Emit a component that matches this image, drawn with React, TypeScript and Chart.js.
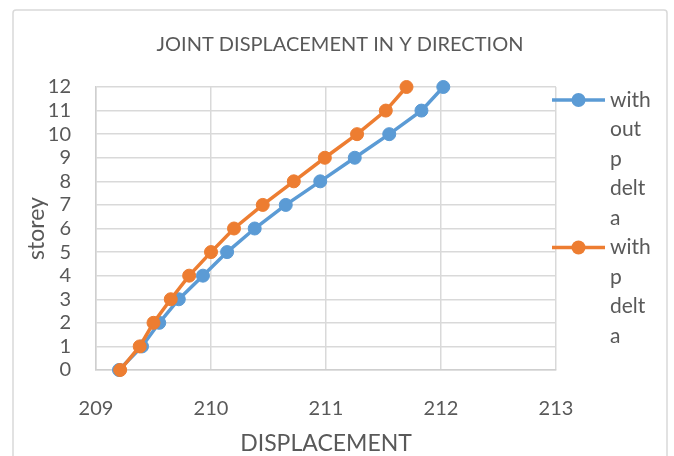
import React, { useEffect, useRef } from "react";
import { Chart, registerables } from "chart.js";

Chart.register(...registerables);

// Storey levels (y) and joint displacement values (x)
const storeys = [0, 1, 2, 3, 4, 5, 6, 7, 8, 9, 10, 11, 12];
const withoutPDelta = [209.2, 209.4, 209.55, 209.72, 209.93, 210.14, 210.38, 210.65, 210.95, 211.25, 211.55, 211.83, 212.02];
const withPDelta = [209.21, 209.38, 209.5, 209.65, 209.81, 210.0, 210.2, 210.45, 210.72, 210.99, 211.27, 211.52, 211.7];

// Legend labels, wrapped word-fragment by word-fragment
const seriesLabels = [
  ["with", "out", "p", "delt", "a"],
  ["with", "p", "delt", "a"],
];
const seriesColors = ["#5b9bd5", "#ed7d31"];

const xMin = 209;
const xMax = 213;
const yMin = 0;
const yMax = 12;

const chartTitle = "JOINT DISPLACEMENT IN Y DIRECTION";
const xTitle = "DISPLACEMENT";
const yTitle = "storey";

const FONT = "Lato, 'Open Sans', sans-serif";
const TEXT = "#595959";
const GRID = "#d9d9d9";

// Outer frame and centred chart title
const framePlugin = {
  id: "frame",
  beforeDraw(chart: any) {
    const { ctx } = chart;
    ctx.save();
    ctx.fillStyle = "#ffffff";
    ctx.fillRect(0, 0, chart.width, chart.height);
    ctx.strokeStyle = GRID;
    ctx.lineWidth = 1.5;
    ctx.beginPath();
    ctx.roundRect(13, 10, 654, 470, 3);
    ctx.stroke();
    ctx.fillStyle = TEXT;
    ctx.font = `20px ${FONT}`;
    ctx.textAlign = "center";
    ctx.textBaseline = "middle";
    ctx.fillText(chartTitle, 340, 45);
    ctx.restore();
  },
};

// Right-hand legend with line + marker samples and wrapped labels
const sideLegendPlugin = {
  id: "sideLegend",
  afterDraw(chart: any) {
    const { ctx, chartArea } = chart;
    const lineStart = chartArea.right - 4;
    const lineEnd = lineStart + 53;
    const textX = lineEnd + 5;
    const lineH = 29.5;
    let y = chartArea.top + 13;
    ctx.save();
    chart.data.datasets.forEach((ds: any, i: number) => {
      const lines: string[] = seriesLabels[i];
      ctx.strokeStyle = ds.borderColor;
      ctx.lineWidth = 3.5;
      ctx.beginPath();
      ctx.moveTo(lineStart, y);
      ctx.lineTo(lineEnd, y);
      ctx.stroke();
      ctx.fillStyle = ds.borderColor;
      ctx.beginPath();
      ctx.arc((lineStart + lineEnd) / 2, y, 7, 0, Math.PI * 2);
      ctx.fill();
      ctx.fillStyle = TEXT;
      ctx.font = `21px ${FONT}`;
      ctx.textBaseline = "middle";
      ctx.textAlign = "left";
      lines.forEach((t, k) => ctx.fillText(t, textX, y + k * lineH));
      y += lines.length * lineH;
    });
    ctx.restore();
  },
};

export default function App() {
  const canvasRef = useRef<HTMLCanvasElement | null>(null);

  useEffect(() => {
    if (!canvasRef.current) return;
    const chart = new Chart(canvasRef.current, {
      type: "line",
      data: {
        datasets: [
          {
            label: seriesLabels[0].join(""),
            data: storeys.map((s, i) => ({ x: withoutPDelta[i], y: s })),
            borderColor: seriesColors[0],
            backgroundColor: seriesColors[0],
            pointBackgroundColor: seriesColors[0],
            pointBorderColor: seriesColors[0],
            borderWidth: 3.5,
            pointRadius: 6.5,
            pointBorderWidth: 1,
            clip: false,
            order: 1,
          },
          {
            label: seriesLabels[1].join(""),
            data: storeys.map((s, i) => ({ x: withPDelta[i], y: s })),
            borderColor: seriesColors[1],
            backgroundColor: seriesColors[1],
            pointBackgroundColor: seriesColors[1],
            pointBorderColor: seriesColors[1],
            borderWidth: 3.5,
            pointRadius: 6.5,
            pointBorderWidth: 1,
            clip: false,
            order: 0,
          },
        ],
      },
      options: {
        animation: false,
        responsive: false,
        events: [],
        layout: { padding: { left: 0, right: 118, top: 87, bottom: 0 } },
        plugins: {
          legend: { display: false },
          tooltip: { enabled: false },
          title: { display: false },
        },
        scales: {
          x: {
            type: "linear",
            min: xMin,
            max: xMax,
            ticks: {
              stepSize: 1,
              autoSkip: false,
              color: TEXT,
              padding: 27,
              font: { family: FONT, size: 20 },
            },
            grid: { color: GRID, lineWidth: 1.5, drawTicks: false },
            border: { color: "#cfcfcf", width: 1.5 },
            title: {
              display: true,
              text: xTitle,
              color: TEXT,
              font: { family: FONT, size: 23, lineHeight: 1 },
              padding: { top: 0, bottom: 1 },
            },
            afterFit(scale: any) {
              scale.height = 86;
            },
          },
          y: {
            type: "linear",
            min: yMin,
            max: yMax,
            ticks: {
              stepSize: 1,
              autoSkip: false,
              color: TEXT,
              padding: 25,
              font: { family: FONT, size: 20 },
            },
            grid: { color: GRID, lineWidth: 1.5, drawTicks: false },
            border: { color: "#cfcfcf", width: 1.5 },
            title: {
              display: true,
              text: yTitle,
              color: TEXT,
              font: { family: FONT, size: 23, lineHeight: 1.2 },
              padding: { top: 23, bottom: 0 },
            },
            afterFit(scale: any) {
              scale.width = 96;
            },
          },
        },
      },
      plugins: [framePlugin, sideLegendPlugin],
    });
    return () => chart.destroy();
  }, []);

  return (
    <div style={{ position: "absolute", left: 0, top: 0, width: 674, height: 456, overflow: "hidden" }}>
      <canvas ref={canvasRef} width={674} height={456} style={{ display: "block" }} />
    </div>
  );
}
